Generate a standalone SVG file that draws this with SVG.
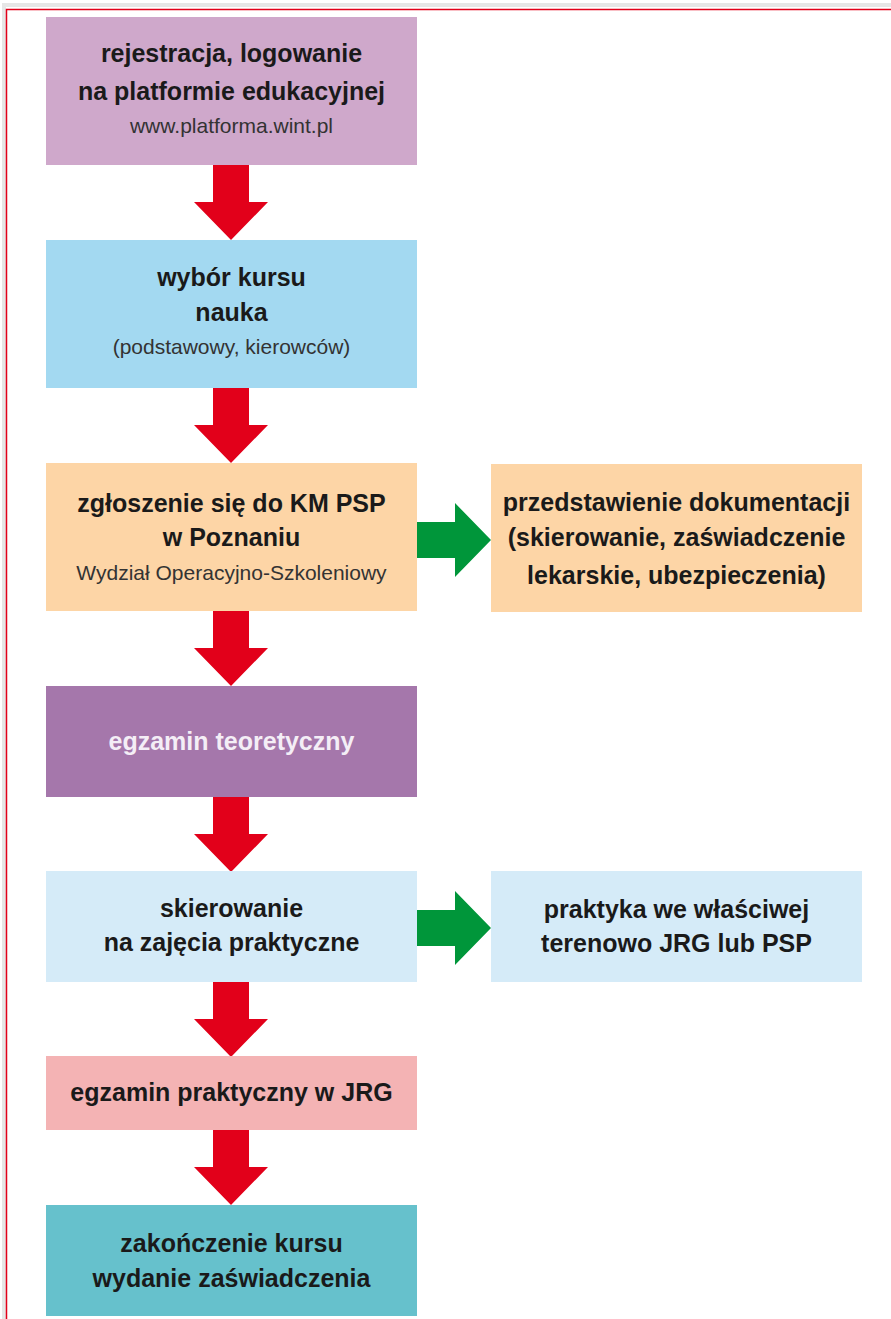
<svg xmlns="http://www.w3.org/2000/svg" width="891" height="1319" viewBox="0 0 891 1319">
<style>
.t{font-family:"Liberation Sans",Arial,sans-serif;font-weight:bold;font-size:25px;fill:#1a1a1a;text-anchor:middle}
.s{font-family:"Liberation Sans",Arial,sans-serif;font-size:21px;fill:#333;text-anchor:middle}
.w{fill:#f4eef6}
.red{fill:#e2001a}
.green{fill:#00963a}
</style>
<defs>
<path id="down" d="M-18,0 H18 V37 H37 L0,75 L-37,37 H-18 Z"/>
<path id="right" d="M0,-18 V18 H38 V37 L74,0 L38,-37 V-18 Z"/>
</defs>
<rect width="891" height="1319" fill="#fff"/>
<rect x="4" y="5" width="900" height="1330" fill="none" stroke="#e6e6e6" stroke-width="4"/>
<rect x="6.5" y="9.5" width="900" height="1330" fill="none" stroke="#e2001a" stroke-width="1.5"/>
<g id="connectors">
<use href="#down" class="red" x="231" y="165"/>
<use href="#down" class="red" x="231" y="388"/>
<use href="#down" class="red" x="231" y="611"/>
<use href="#down" class="red" x="231" y="797"/>
<use href="#down" class="red" x="231" y="982"/>
<use href="#down" class="red" x="231" y="1130"/>
<use href="#right" class="green" x="417" y="540"/>
<use href="#right" class="green" x="417" y="928"/>
</g>
<g id="n1"><rect x="46" y="17" width="371" height="148" fill="#cfa8cb"/>
<text class="t" x="231.5" y="62">rejestracja, logowanie</text>
<text class="t" x="231.5" y="100">na platformie edukacyjnej</text>
<text class="s" x="231.5" y="133">www.platforma.wint.pl</text></g>
<g id="n2"><rect x="46" y="240" width="371" height="148" fill="#a3d9f1"/>
<text class="t" x="231.5" y="286">wybór kursu</text>
<text class="t" x="231.5" y="321">nauka</text>
<text class="s" x="231.5" y="354">(podstawowy, kierowców)</text></g>
<g id="n3"><rect x="46" y="463" width="371" height="148" fill="#fdd5a6"/>
<text class="t" x="231.5" y="512">zgłoszenie się do KM PSP</text>
<text class="t" x="231.5" y="546">w Poznaniu</text>
<text class="s" x="231.5" y="580">Wydział Operacyjno-Szkoleniowy</text></g>
<g id="n3r"><rect x="491" y="464" width="371" height="148" fill="#fdd5a6"/>
<text class="t" x="676.5" y="511">przedstawienie dokumentacji</text>
<text class="t" x="676.5" y="546">(skierowanie, zaświadczenie</text>
<text class="t" x="676.5" y="584">lekarskie, ubezpieczenia)</text></g>
<g id="n4"><rect x="46" y="686" width="371" height="111" fill="#a577ab"/>
<text class="t w" x="231.5" y="750">egzamin teoretyczny</text></g>
<g id="n5"><rect x="46" y="871" width="371" height="111" fill="#d5ebf8"/>
<text class="t" x="231.5" y="917">skierowanie</text>
<text class="t" x="231.5" y="951">na zajęcia praktyczne</text></g>
<g id="n5r"><rect x="491" y="871" width="371" height="111" fill="#d5ebf8"/>
<text class="t" x="676.5" y="918">praktyka we właściwej</text>
<text class="t" x="676.5" y="952">terenowo JRG lub PSP</text></g>
<g id="n6"><rect x="46" y="1056" width="371" height="74" fill="#f4b3b4"/>
<text class="t" x="231.5" y="1101">egzamin praktyczny w JRG</text></g>
<g id="n7"><rect x="46" y="1205" width="371" height="111" fill="#66c1cc"/>
<text class="t" x="231.5" y="1252">zakończenie kursu</text>
<text class="t" x="231.5" y="1287">wydanie zaświadczenia</text></g>
</svg>
